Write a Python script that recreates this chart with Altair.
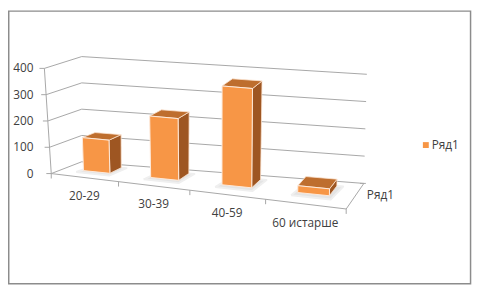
import altair as alt
import pandas as pd

# ---------------- data ----------------
categories = ["20-29", "30-39", "40-59", "60 истарше"]
values = [125, 230, 365, 25]
series_name = "Ряд1"
y_ticks = [0, 100, 200, 300, 400]
y_max = 400

# ---------------- 3-D projection (page pixel space) ----------------
W = 1.128  # perspective foreshortening along the category axis
corner = {
    (0, 0, 0): (52, 174), (1, 0, 0): (352, 210), (0, 0, 1): (83, 162), (1, 0, 1): (370, 184),
    (0, 1, 0): (45, 67), (1, 1, 0): (356, 96), (0, 1, 1): (83, 55), (1, 1, 1): (373, 73),
}


def proj(u, v, z):
    U = u / (u + W * (1 - u))
    x = y = 0.0
    for a in (0, 1):
        for b in (0, 1):
            for c in (0, 1):
                w = (U if a else 1 - U) * (v if b else 1 - v) * (z if c else 1 - z)
                px, py = corner[(a, b, c)]
                x += w * px
                y += w * py
    return x, y


n = len(categories)
Z0, Z1 = 0.42, 0.82
HALF = 0.05

# ---------------- frame lines ----------------
rows = []


def add(pid, pts):
    for k, (x, y) in enumerate(pts):
        rows.append({"id": pid, "o": k, "x": x, "y": y})


for t in y_ticks:
    v = t / y_max
    add(f"g{t}", [proj(0, v, 0), proj(0, v, 1), proj(1, v, 1)])
    fx, fy = proj(0, v, 0)
    add(f"t{t}", [(fx - 5, fy), (fx, fy)])
add("floor", [proj(0, 0, 0), proj(1, 0, 0), proj(1, 0, 1)])
add("axis", [proj(0, 0, 0), proj(0, 1, 0)])
for k in range(n + 1):
    cx, cy = proj(k / n, 0, 0)
    add(f"c{k}", [(cx, cy), (cx, cy + 5)])
bx, by = proj(1, 0, 1)
add("dtick", [(bx - 4, by), (bx + 2, by)])
lines_df = pd.DataFrame(rows)

# ---------------- bar faces ----------------
faces = {"shadow": [], "front": [], "side": [], "top": []}
for i, val in enumerate(values):
    uc = (i + 0.5) / n
    uL, uR = uc - HALF, uc + HALF
    v = val / y_max
    faces["shadow"].append([(uL - 0.012, 0, Z0 - 0.14), (uR + 0.012, 0, Z0 - 0.14),
                            (uR + 0.02, 0, Z1), (uL, 0, Z1), (uL - 0.012, 0, Z0 - 0.14)])
    faces["front"].append([(uL, 0, Z0), (uR, 0, Z0), (uR, v, Z0), (uL, v, Z0), (uL, 0, Z0)])
    faces["side"].append([(uR, 0, Z0), (uR, 0, Z1), (uR, v, Z1), (uR, v, Z0), (uR, 0, Z0)])
    faces["top"].append([(uL, v, Z0), (uR, v, Z0), (uR, v, Z1), (uL, v, Z1), (uL, v, Z0)])


def face_df(name):
    r = []
    for i, poly in enumerate(faces[name]):
        for k, (u, v, z) in enumerate(poly):
            x, y = proj(u, v, z)
            r.append({"id": f"{name}{i}", "o": k, "x": x, "y": y})
    return pd.DataFrame(r)


xs = alt.Scale(domain=[8, 482], nice=False, zero=False)
ys = alt.Scale(domain=[8, 290], nice=False, zero=False, reverse=True)


def enc(ch):
    return ch.encode(
        x=alt.X("x:Q", scale=xs, axis=None),
        y=alt.Y("y:Q", scale=ys, axis=None),
        detail="id:N",
        order="o:Q",
    )


grid = enc(alt.Chart(lines_df).mark_line(stroke="#A6A6A6", strokeWidth=1))
shadow = enc(alt.Chart(face_df("shadow")).mark_line(fill="#E4E4E4", stroke="#EFEFEF", strokeWidth=2, strokeJoin="round"))
side = enc(alt.Chart(face_df("side")).mark_line(fill="#9E5622", stroke="#FBE3D0", strokeWidth=0.8, strokeJoin="round"))
top = enc(alt.Chart(face_df("top")).mark_line(fill="#BE6E2E", stroke="#FBE3D0", strokeWidth=0.8, strokeJoin="round"))
front = enc(alt.Chart(face_df("front")).mark_line(fill="#F79646", stroke="#FDEADB", strokeWidth=1, strokeJoin="round"))

FONT = "Open Sans"
TXT = "#404040"

ylab_df = pd.DataFrame({"lab": [str(t) for t in y_ticks],
                        "y": [proj(0, t / y_max, 0)[1] for t in y_ticks],
                        "x": [34] * len(y_ticks)})
ylabels = alt.Chart(ylab_df).mark_text(align="right", baseline="middle", font=FONT, fontSize=12, color=TXT).encode(
    x=alt.X("x:Q", scale=xs, axis=None), y=alt.Y("y:Q", scale=ys, axis=None), text="lab:N")

cx_list, cy_list = [], []
for i in range(n):
    px, py = proj((i + 0.5) / n, 0, 0)
    cx_list.append(px)
    cy_list.append(py + 19)
clab_df = pd.DataFrame({"lab": categories, "x": cx_list, "y": cy_list})
clabels = alt.Chart(clab_df).mark_text(align="center", baseline="middle", font=FONT, fontSize=12, color=TXT).encode(
    x=alt.X("x:Q", scale=xs, axis=None), y=alt.Y("y:Q", scale=ys, axis=None), text="lab:N")

dlab_df = pd.DataFrame({"lab": [series_name], "x": [bx + 3], "y": [by + 12]})
dlabel = alt.Chart(dlab_df).mark_text(align="left", baseline="middle", font=FONT, fontSize=12, color=TXT).encode(
    x=alt.X("x:Q", scale=xs, axis=None), y=alt.Y("y:Q", scale=ys, axis=None), text="lab:N")

leg_df = pd.DataFrame({"lab": [series_name]})
leg_sym = alt.Chart(leg_df).mark_square(size=36, color="#F79646", opacity=1).encode(
    x=alt.value(425), y=alt.value(137))
leg_txt = alt.Chart(leg_df).mark_text(align="left", baseline="middle", font=FONT, fontSize=12, color=TXT).encode(
    x=alt.value(431), y=alt.value(137), text="lab:N")

border = alt.Chart(leg_df).mark_rect(fill=None, stroke="#8C8C8C", strokeWidth=1.5).encode(
    x=alt.value(0.75), x2=alt.value(470.5), y=alt.value(0.75), y2=alt.value(278))

chart = alt.layer(grid, shadow, side, top, front, ylabels, clabels, dlabel, leg_sym, leg_txt, border).properties(
    width=474, height=282, padding=0, autosize=alt.AutoSizeParams(type="none"),
    background="white",
).configure_view(stroke=None)

chart.save("out.html", embed_options={"renderer": "svg", "actions": False})
